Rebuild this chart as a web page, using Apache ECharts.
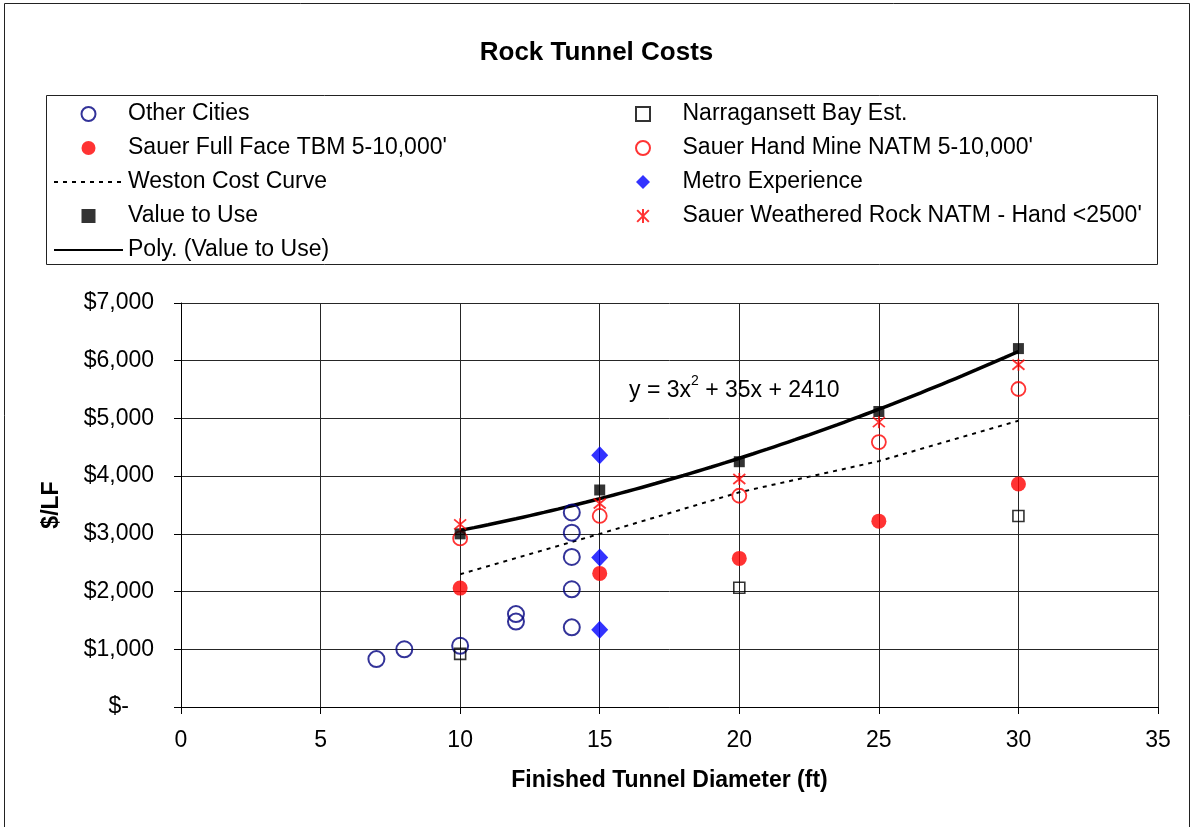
<!DOCTYPE html>
<html>
<head>
<meta charset="utf-8">
<title>Rock Tunnel Costs</title>
<script src="https://cdn.jsdelivr.net/npm/echarts@6/dist/echarts.min.js"></script>
<style>
  html, body { margin: 0; padding: 0; background: #ffffff; }
  #chart { width: 1193px; height: 827px; }
</style>
</head>
<body>
<div id="chart"></div>
<script>
// ---- data ($ per linear foot vs finished diameter in ft) ----
const otherCitiesX = [7, 8, 10, 12, 12, 14, 14, 14, 14, 14];
const otherCitiesY = [830, 1000, 1060, 1610, 1480, 3370, 3020, 2600, 2040, 1380];

const narragansettX = [10, 20, 30];
const narragansettY = [920, 2065, 3310];

const fullFaceTbmX = [10, 15, 20, 25, 30];
const fullFaceTbmY = [2060, 2315, 2575, 3220, 3865];

const handMineX = [10, 15, 20, 25, 30];
const handMineY = [2920, 3310, 3660, 4590, 5510];

const westonX = [10, 15, 20, 25, 30];
const westonY = [2300, 3000, 3720, 4260, 4960];

const metroX = [15, 15, 15];
const metroY = [4360, 2590, 1340];

const valueToUseX = [10, 15, 20, 25, 30];
const valueToUseY = [3000, 3760, 4250, 5120, 6210];

const weatheredX = [10, 15, 20, 25, 30];
const weatheredY = [3165, 3525, 3950, 4935, 5930];

// polynomial trendline of "Value to Use": y = a*x^2 + b*x + c
const trendCoef = [3, 35, 2410];
const trendRange = [10, 30];

const xTickLabels = ['0', '5', '10', '15', '20', '25', '30', '35'];
const yTickLabels = ['$-', '$1,000', '$2,000', '$3,000', '$4,000', '$5,000', '$6,000', '$7,000'];

const legendLeftNames = ['Other Cities', "Sauer Full Face TBM 5-10,000'", 'Weston Cost Curve', 'Value to Use', 'Poly. (Value to Use)'];
const legendRightNames = ['Narragansett Bay Est.', "Sauer Hand Mine NATM 5-10,000'", 'Metro Experience', "Sauer Weathered Rock NATM - Hand <2500'"];

// ---- helpers ----
const FONT = '"Liberation Sans", Arial, Helvetica, sans-serif';
const zip = (xs, ys) => xs.map((x, i) => [x, ys[i]]);

// trendline sampled along the fitted polynomial
const trendPoints = [];
for (let x = trendRange[0]; x <= trendRange[1]; x += 0.5) {
  trendPoints.push([x, trendCoef[0] * x * x + trendCoef[1] * x + trendCoef[2]]);
}

// marker shapes (paths keep their aspect in the legend)
const squarePath = 'path://M0,0L10,0L10,10L0,10Z';
const diamondPath = 'path://M5,0L10,5L5,10L0,5Z';
const asteriskPath = 'path://M1,1L11,11M11,1L1,11M6,0L6,12';

const chart = echarts.init(document.getElementById('chart'), null, { renderer: 'canvas' });

const legendCommon = {
  orient: 'vertical',
  top: 92,
  padding: 5,
  itemWidth: 69,
  itemHeight: 14,
  itemGap: 0,
  symbolKeepAspect: true,
  selectedMode: false,
  textStyle: { fontFamily: FONT, fontSize: 23, color: '#000', lineHeight: 34 }
};

// line series carry an invisible item style so the legend shows only the stroke
const hiddenItem = { color: 'transparent', borderColor: 'transparent', borderWidth: 0 };

const option = {
  animation: false,
  backgroundColor: '#ffffff',
  textStyle: { fontFamily: FONT },
  title: {
    text: 'Rock Tunnel Costs',
    left: 'center',
    top: 35,
    textStyle: { fontFamily: FONT, fontSize: 26, fontWeight: 'bold', color: '#000' }
  },
  legend: [
    Object.assign({}, legendCommon, { left: 48, data: legendLeftNames }),
    Object.assign({}, legendCommon, { left: 630, data: legendRightNames })
  ],
  grid: { left: 181, right: 35, top: 303, bottom: 120, containLabel: false },
  xAxis: {
    type: 'value',
    min: 0, max: 35, interval: 5,
    name: 'Finished Tunnel Diameter (ft)',
    nameLocation: 'middle',
    nameGap: 62,
    nameTextStyle: { fontFamily: FONT, fontSize: 23, fontWeight: 'bold', color: '#000' },
    axisLine: { onZero: false, lineStyle: { color: '#000', width: 1 } },
    axisTick: { show: true, inside: false, length: 7, lineStyle: { color: '#000' } },
    axisLabel: {
      margin: 22, fontFamily: FONT, fontSize: 23, color: '#000',
      formatter: v => xTickLabels[Math.round(v / 5)]
    },
    splitLine: { show: true, lineStyle: { color: '#262626', width: 1 } }
  },
  yAxis: {
    type: 'value',
    min: 0, max: 7000, interval: 1000,
    name: '$/LF',
    nameLocation: 'middle',
    nameRotate: 90,
    nameGap: 118,
    nameTextStyle: { fontFamily: FONT, fontSize: 23, fontWeight: 'bold', color: '#000' },
    axisLine: { show: true, lineStyle: { color: '#000', width: 1 } },
    axisTick: { show: true, inside: false, length: 7, lineStyle: { color: '#000' } },
    axisLabel: {
      margin: 27, fontFamily: FONT, fontSize: 23, color: '#000',
      formatter: v => {
        const t = yTickLabels[Math.round(v / 1000)];
        return v === 0 ? '{z|' + t + '}' : t;
      },
      rich: { z: { fontFamily: FONT, fontSize: 23, color: '#000', padding: [0, 25, 0, 0] } }
    },
    splitLine: { show: true, lineStyle: { color: '#262626', width: 1 } }
  },
  graphic: [
    {
      type: 'rect', silent: true, z: -10,
      shape: { x: 4.5, y: 3.5, width: 1185, height: 840 },
      style: { fill: 'none', stroke: '#222', lineWidth: 1 }
    },
    {
      type: 'rect', silent: true, z: -10,
      shape: { x: 46.5, y: 95.5, width: 1111, height: 169 },
      style: { fill: 'none', stroke: '#222', lineWidth: 1 }
    },
    {
      type: 'text', silent: true, z: 50,
      left: 629, top: 374,
      style: {
        text: '{m|y = ' + trendCoef[0] + 'x}{s|2}{m| + ' + trendCoef[1] + 'x + ' + trendCoef[2] + '}',
        rich: {
          m: { fontFamily: FONT, fontSize: 23, color: '#000', lineHeight: 28, verticalAlign: 'bottom' },
          s: { fontFamily: FONT, fontSize: 14, color: '#000', lineHeight: 14, verticalAlign: 'top' }
        }
      }
    }
  ],
  series: [
    {
      name: 'Weston Cost Curve',
      type: 'line',
      data: zip(westonX, westonY),
      symbol: 'none',
      lineStyle: { color: '#000', width: 2, type: [4, 5] },
      itemStyle: hiddenItem,
      z: 2
    },
    {
      name: 'Poly. (Value to Use)',
      type: 'line',
      data: trendPoints,
      symbol: 'none',
      smooth: true,
      lineStyle: { color: '#000', width: 3.5 },
      itemStyle: hiddenItem,
      z: 2
    },
    {
      name: 'Other Cities',
      type: 'scatter',
      data: zip(otherCitiesX, otherCitiesY),
      symbol: 'circle',
      symbolSize: 16,
      itemStyle: { color: 'transparent', borderColor: '#000080', borderWidth: 2 },
      z: 3
    },
    {
      name: 'Narragansett Bay Est.',
      type: 'scatter',
      data: zip(narragansettX, narragansettY),
      symbol: squarePath,
      symbolSize: 11,
      itemStyle: { color: 'transparent', borderColor: '#000', borderWidth: 1.6 },
      z: 3
    },
    {
      name: "Sauer Full Face TBM 5-10,000'",
      type: 'scatter',
      data: zip(fullFaceTbmX, fullFaceTbmY),
      symbol: 'circle',
      symbolSize: 15,
      itemStyle: { color: '#FF0000' },
      z: 3
    },
    {
      name: "Sauer Hand Mine NATM 5-10,000'",
      type: 'scatter',
      data: zip(handMineX, handMineY),
      symbol: 'circle',
      symbolSize: 14,
      itemStyle: { color: 'transparent', borderColor: '#FF0000', borderWidth: 1.8 },
      z: 3
    },
    {
      name: 'Metro Experience',
      type: 'scatter',
      data: zip(metroX, metroY),
      symbol: diamondPath,
      symbolSize: [17, 18],
      itemStyle: { color: '#0000FF' },
      z: 3
    },
    {
      name: 'Value to Use',
      type: 'scatter',
      data: zip(valueToUseX, valueToUseY),
      symbol: squarePath,
      symbolSize: 11,
      itemStyle: { color: '#000' },
      z: 4
    },
    {
      name: "Sauer Weathered Rock NATM - Hand <2500'",
      type: 'scatter',
      data: zip(weatheredX, weatheredY),
      symbol: asteriskPath,
      symbolSize: 12,
      itemStyle: { color: 'transparent', borderColor: '#FF0000', borderWidth: 1.8 },
      z: 5
    }
  ]
};

chart.setOption(option);
</script>
</body>
</html>
